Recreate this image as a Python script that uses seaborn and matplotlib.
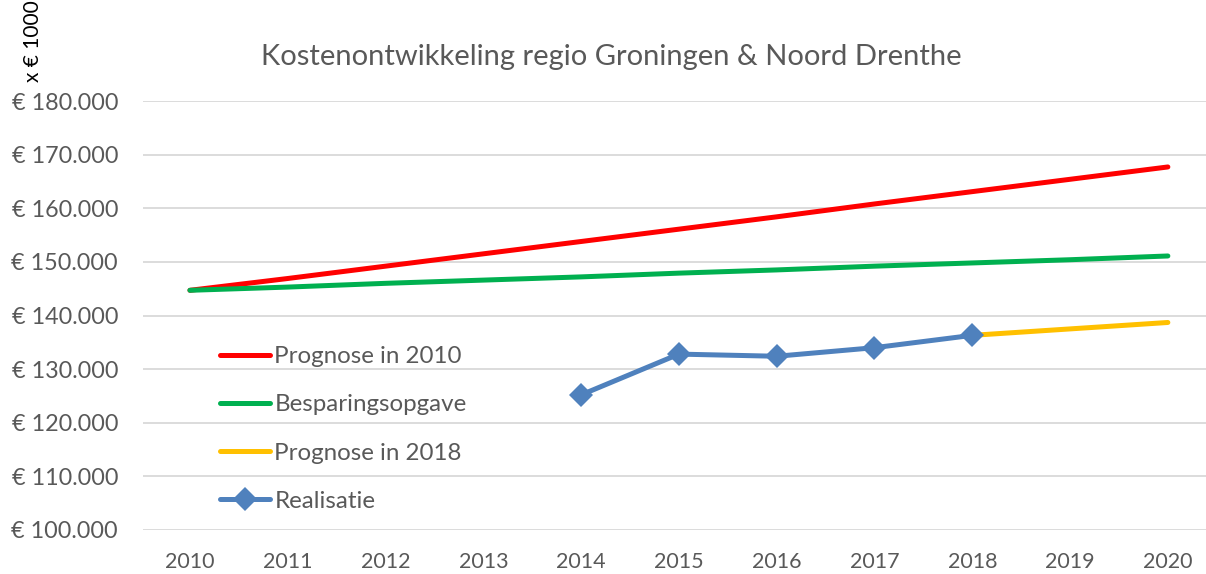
import matplotlib
matplotlib.use("Agg")
import matplotlib.pyplot as plt
import seaborn as sns
import pandas as pd

years = [2010, 2011, 2012, 2013, 2014, 2015, 2016, 2017, 2018, 2019, 2020]
prognose_2010 = [144700, 146900, 149200, 151500, 153800, 156100, 158400, 160800, 163100, 165400, 167700]
besparingsopgave = [144700, 145300, 146000, 146600, 147200, 147900, 148500, 149200, 149800, 150400, 151100]
prognose_2018_years = [2018, 2019, 2020]
prognose_2018 = [136300, 137500, 138700]
realisatie_years = [2014, 2015, 2016, 2017, 2018]
realisatie = [125200, 132800, 132400, 134000, 136300]

yticks = [100000, 110000, 120000, 130000, 140000, 150000, 160000, 170000, 180000]
ytick_labels = ["€ 100.000", "€ 110.000", "€ 120.000", "€ 130.000", "€ 140.000",
                "€ 150.000", "€ 160.000", "€ 170.000", "€ 180.000"]

title = "Kostenontwikkeling regio Groningen & Noord Drenthe"
ylabel = "x € 1000"

sns.set_theme(style="white")
plt.rcParams["font.family"] = ["Lato", "DejaVu Sans"]

fig = plt.figure(figsize=(12.06, 5.74), dpi=100)
ax = fig.add_axes([143 / 1206, 1 - 530 / 574, 1 - 143 / 1206, (530 - 101) / 574])

text_color = "#595959"
lw = 3.6

df_red = pd.DataFrame({"year": years, "value": prognose_2010})
df_green = pd.DataFrame({"year": years, "value": besparingsopgave})
df_yellow = pd.DataFrame({"year": prognose_2018_years, "value": prognose_2018})
df_blue = pd.DataFrame({"year": realisatie_years, "value": realisatie})

sns.lineplot(data=df_red, x="year", y="value", ax=ax, color="#FF0000", lw=lw,
             solid_capstyle="round", label="Prognose in 2010", zorder=3)
sns.lineplot(data=df_green, x="year", y="value", ax=ax, color="#00B050", lw=lw,
             solid_capstyle="round", label="Besparingsopgave", zorder=3)
sns.lineplot(data=df_yellow, x="year", y="value", ax=ax, color="#FFC000", lw=lw,
             solid_capstyle="round", label="Prognose in 2018", zorder=3)
sns.lineplot(data=df_blue, x="year", y="value", ax=ax, color="#4F81BD", lw=lw,
             marker="D", markersize=12.5, markeredgewidth=0,
             solid_capstyle="round", label="Realisatie", zorder=4)

ax.set_xlim(2009.52, 2020.39)
ax.set_ylim(100000, 180000)
ax.set_yticks(yticks)
ax.set_yticklabels(ytick_labels)
ax.set_xticks(years)
ax.set_xticklabels([str(y) for y in years])
ax.tick_params(axis="both", length=0, colors=text_color)
ax.tick_params(axis="y", pad=18, labelsize=16.8)
ax.tick_params(axis="x", pad=16, labelsize=15.5)
ax.yaxis.grid(True, color="#D9D9D9", lw=1.3)
ax.xaxis.grid(False)
for s in ax.spines.values():
    s.set_visible(False)
ax.set_xlabel("")
ax.set_ylabel("")

leg = ax.legend(loc="center left", bbox_to_anchor=(208 / 1206, 1 - 429 / 574),
                bbox_transform=fig.transFigure, frameon=False, fontsize=17.4,
                handlelength=2.05, handletextpad=0.2, labelspacing=1.12,
                labelcolor=text_color, borderpad=0)

fig.text(611 / 1206, 1 - 57 / 574, title, ha="center", va="center",
         fontsize=21, color=text_color)
fig.text(33 / 1206, 1 - 82 / 574, ylabel, rotation=90, ha="center", va="bottom",
         fontsize=15, color="black")

fig.savefig("out.png", dpi=100)
